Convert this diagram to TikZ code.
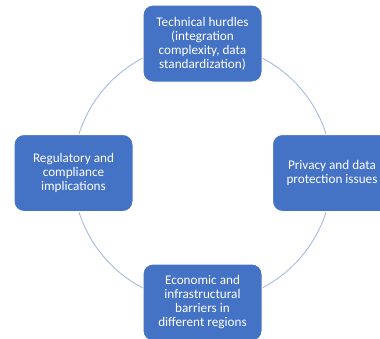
\documentclass[tikz,border=0pt]{standalone}
\usepackage{fontspec}
\setmainfont{Carlito}
\begin{document}
\begin{tikzpicture}[x=1pt,y=-1pt,
  box/.style={draw=white, line width=1pt, fill=boxblue, rounded corners=10pt,
    minimum width=119pt, minimum height=77pt, inner sep=2pt, text=white,
    align=center, font=\fontsize{13.2}{14}\selectfont}]
\definecolor{boxblue}{HTML}{4472C4}
\definecolor{ringblue}{HTML}{9DB3E0}
\useasboundingbox (0,0) rectangle (380,338);
\begin{scope}
\clip (0,0) rectangle (380,338);
\coordinate (c) at (202.5,173);
\draw[ringblue, line width=0.8pt] (c) circle[radius=129.5pt];
\node[box] (t) at (202.5,43.5) {Technical hurdles\\(integration\\complexity, data\\standardization)};
\node[box] (r) at (332,173) {Privacy and data\\protection issues};
\node[box] (b) at (202.5,302.5) {Economic and\\infrastructural\\barriers in\\different regions};
\node[box] (l) at (73.5,173) {Regulatory and\\compliance\\implications};
\end{scope}
\end{tikzpicture}
\end{document}
